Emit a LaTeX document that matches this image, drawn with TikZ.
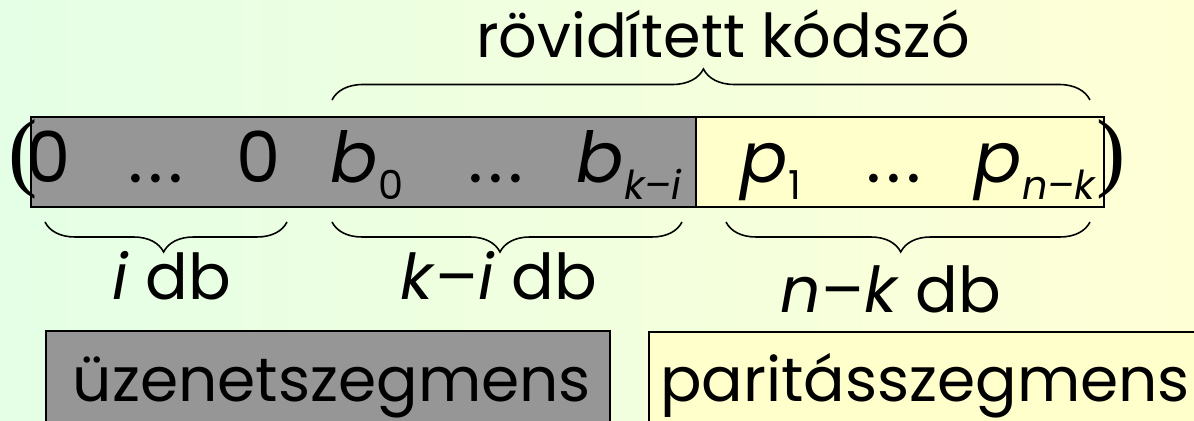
\documentclass[tikz,border=0pt]{standalone}
\usepackage{fontspec}
\setmainfont{Poppins}
\newfontfamily\parenfont{Liberation Serif}
\usetikzlibrary{decorations.pathreplacing}

\definecolor{bgleft}{RGB}{228,255,230}
\definecolor{bgright}{RGB}{255,255,214}
\definecolor{msggray}{RGB}{150,150,150}
\definecolor{parityyellow}{RGB}{255,255,204}

% lowered, smaller index (b_0, p_{n-k}, ...)
\newcommand\lowsub[1]{\raisebox{-9.6pt}{\fontsize{22.7}{24}\selectfont #1}}
% widely spaced ellipsis
\newcommand\wdots{\makebox[31pt]{.\hfill.\hfill.}}

\tikzset{
  segline/.style={draw=black, line width=0.9pt},
  sym/.style={anchor=base, inner sep=0pt, font=\fontsize{40}{44}\selectfont},
  lbl/.style={anchor=base, inner sep=0pt, font=\fontsize{36}{40}\selectfont},
  titletext/.style={anchor=base, inner sep=0pt, font=\fontsize{34.4}{38}\selectfont},
  boxtext/.style={anchor=base, inner sep=0pt, font=\fontsize{35}{38}\selectfont},
  paren/.style={anchor=base, inner sep=0pt, font=\parenfont\fontsize{50}{50}\selectfont},
  curly/.style={draw=black, line width=0.9pt, decorate,
    decoration={brace, amplitude=0.62cm, aspect=#1}},
  curlydown/.style={draw=black, line width=0.9pt, decorate,
    decoration={brace, mirror, amplitude=0.6cm, aspect=#1}},
}

\begin{document}
\begin{tikzpicture}[x=0.02cm, y=-0.02cm]
\useasboundingbox (0,0) rectangle (1194,421);
\clip (0,0) rectangle (1194,421);
\shade[left color=bgleft, right color=bgright] (0,0) rectangle (1194,421);

% the shortened codeword: message part and parity part
\path[segline, fill=parityyellow] (696,117) rectangle (1104,207);
\path[segline, fill=msggray] (31,117) rectangle (696,207);

\node[paren] (lpar) at (23,181) {(};
\node[paren] (rpar) at (1111,181) {)};

\node[sym] (z1)   at (49,183)   {0};
\node[sym] (d1)   at (156,183)  {\wdots};
\node[sym] (z2)   at (259,183)  {0};
\node[sym] (b0)   at (367,183)  {\itshape b\lowsub{\upshape 0}};
\node[sym] (d2)   at (496,183)  {\wdots};
\node[sym] (bki)  at (629,183)  {\itshape b\lowsub{k--i}};
\node[sym] (p1)   at (771,183)  {\itshape p\lowsub{\upshape 1}};
\node[sym] (d3)   at (894,183)  {\wdots};
\node[sym] (pnk)  at (1035,183) {\itshape p\lowsub{n--k}};

% braces
\coordinate (topL) at (332,100);
\coordinate (topR) at (1090,100);
\coordinate (iL) at (45,222);
\coordinate (iR) at (287,222);
\coordinate (kiL) at (332,222);
\coordinate (kiR) at (682,222);
\coordinate (nkL) at (726,222);
\coordinate (nkR) at (1090,222);

\path[curly=0.49] (topL) -- (topR);
\path[curlydown=0.49] (iL) -- (iR);
\path[curlydown=0.48] (kiL) -- (kiR);
\path[curlydown=0.48] (nkL) -- (nkR);

\node[titletext] (title) at (723,58) {rövidített kódszó};
\node[lbl] (icnt)  at (172,300) {\textit{i} db};
\node[lbl] (kicnt) at (499,300) {\textit{k}--\textit{i} db};
\node[lbl] (nkcnt) at (891,313) {\textit{n}--\textit{k} db};

% legend boxes
\path[segline, fill=msggray] (46,331) rectangle (610,440);
\path[segline, fill=parityyellow] (649,332) rectangle (1200,440);
\node[boxtext] (msg) at (332,402) {üzenetszegmens};
\node[boxtext] (par) at (925,402) {paritásszegmens};
\end{tikzpicture}
\end{document}
